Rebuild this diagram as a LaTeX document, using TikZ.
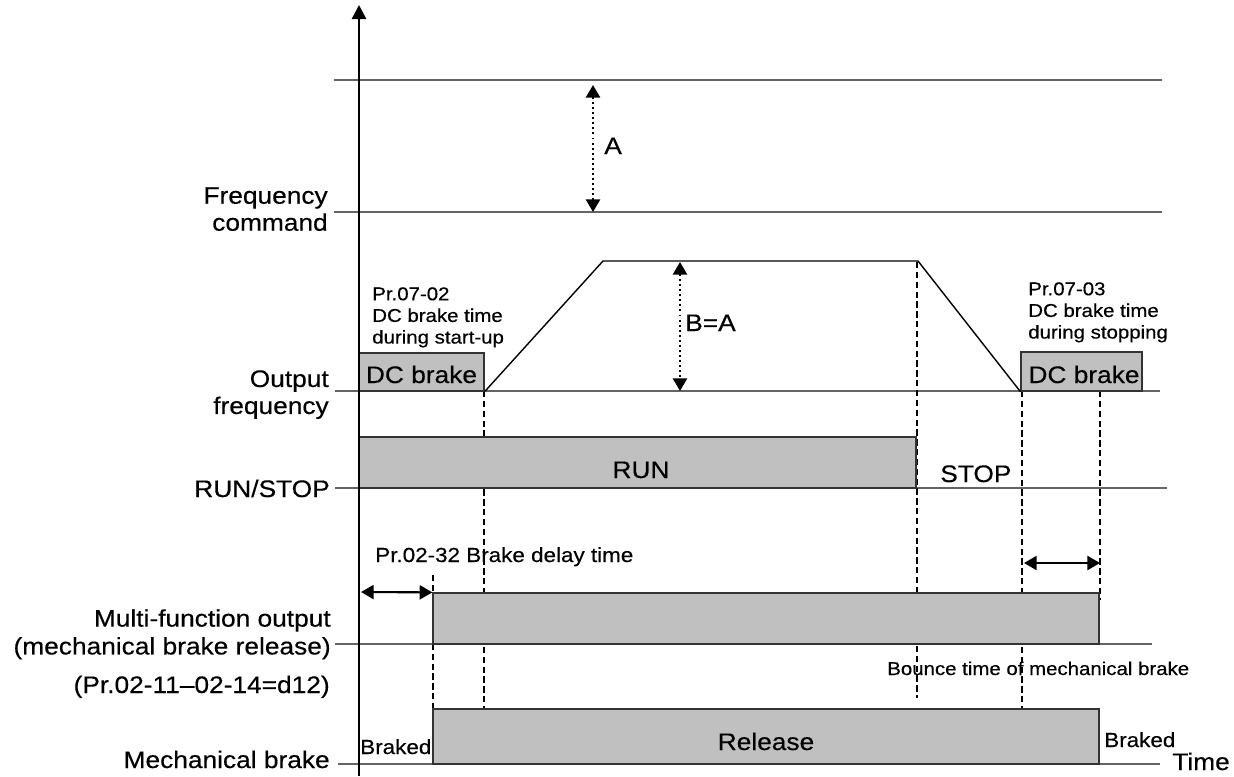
\documentclass[tikz,border=0pt]{standalone}
\usepackage{fontspec}
\setmainfont[FakeStretch=1.1,FakeBold=0.4]{Liberation Sans}
\usepackage{tikz}
\usetikzlibrary{arrows.meta,positioning,fit}
\definecolor{boxgray}{RGB}{192,192,192}
\definecolor{linegray}{RGB}{100,100,100}

\begin{document}
\begin{tikzpicture}[x=0.025cm, y=-0.025cm, inner sep=0pt,
  every node/.style={font=\fontsize{17}{19.2}\selectfont},
  small/.style={font=\fontsize{13.2}{15.4}\selectfont},
  mid/.style={font=\fontsize{14.5}{17}\selectfont},
  level/.style={linegray, line width=1.2pt},
  gbox/.style={draw=black!80, fill=boxgray, line width=0.9pt},
  guide/.style={line width=1.5pt, dash pattern=on 4.5pt off 2.5pt},
  span/.style={line width=1.8pt, dash pattern=on 1.4pt off 2.2pt,
    {Triangle[length=9pt,width=10pt]}-{Triangle[length=9pt,width=10pt]}},
  delay/.style={line width=1.5pt,
    {Triangle[length=9pt,width=10pt]}-{Triangle[length=9pt,width=10pt]}}]
\useasboundingbox (0,0) rectangle (1234,776);
\draw[level] (334,80) -- (1162,80);
\draw[level] (334,212) -- (1162,212);
\draw[level] (335,391) -- (1160,391);
\draw[level] (335,488) -- (1167,488);
\draw[level] (335,644) -- (1152,644);
\draw[level] (338,764) -- (1160,764);
\draw[guide] (484,391) -- (484,709);
\draw[guide] (433,575) -- (433,709);
\draw[guide] (917,262) -- (917,698);
\draw[guide] (1022,391) -- (1022,709);
\draw[guide] (1100,391) -- (1100,600);
\node[gbox, fit={(359,353) (484,391)}] (dc1) {};
\node[gbox, fit={(1021,352) (1142,391)}] (dc2) {};
\node[gbox, fit={(359,437) (916,488)}] (run) {};
\node[gbox, fit={(433,593) (1099,644)}] (mfo) {};
\node[gbox, fit={(433,709) (1099,764)}] (rel) {};
\node[anchor=base] (dc1txt) at (421.5,383) {DC brake};
\node[anchor=base] (dc2txt) at (1084,383) {DC brake};
\node[anchor=base] (runtxt) at (641,478) {RUN};
\node[anchor=base] (reltxt) at (766,750) {Release};
\draw[line width=1pt] (dc1.south east) -- (603,261) -- (918,261) -- (dc2.south west);
\draw[-{Triangle[length=10pt,width=10pt]}, line width=1.8pt] (359,776) -- (359,5);
\draw[span] (593,85) -- (593,212);
\node[anchor=base west] (a) at (604,154) {A};
\draw[span] (680,262) -- (680,391);
\node[anchor=base west] (ba) at (685,331) {B=A};
\draw[delay] (361,592) -- (mfo.north west);
\draw[delay] (1024,563) -- (1100,563);
\node[small, align=left, anchor=north west] (pr0702) at (372,287) {Pr.07-02\\DC brake time\\during start-up};
\node[small, align=left, anchor=north west] (pr0703) at (1028,282) {Pr.07-03\\DC brake time\\during stopping};
\node[align=right, anchor=north east] (fcmd) at (328,187) {Frequency\\command};
\node[align=right, anchor=north east] (ofreq) at (329,370) {Output\\frequency};
\node[anchor=base east] (runstop) at (330,497) {RUN/STOP};
\node[align=right, anchor=north east, font=\fontsize{17}{19.8}\selectfont] (mfolbl) at (331,609) {Multi-function output\\(mechanical brake release)};
\node[anchor=base east] (prd12) at (330,693) {(Pr.02-11–02-14=d12)};
\node[anchor=base east] (mechlbl) at (330,768) {Mechanical brake};
\node[anchor=base west] (stop) at (940,482) {STOP};
\node[mid, anchor=base west] (delaylbl) at (375,562) {Pr.02-32 Brake delay time};
\node[small, anchor=base west] (bounce) at (887,675) {Bounce time of mechanical brake};
\node[mid, anchor=base west] (brk0) at (360,754) {Braked};
\node[mid, anchor=base west] (brk1) at (1104,747) {Braked};
\node[anchor=base west] (time) at (1172,770) {Time};
\end{tikzpicture}
\end{document}
